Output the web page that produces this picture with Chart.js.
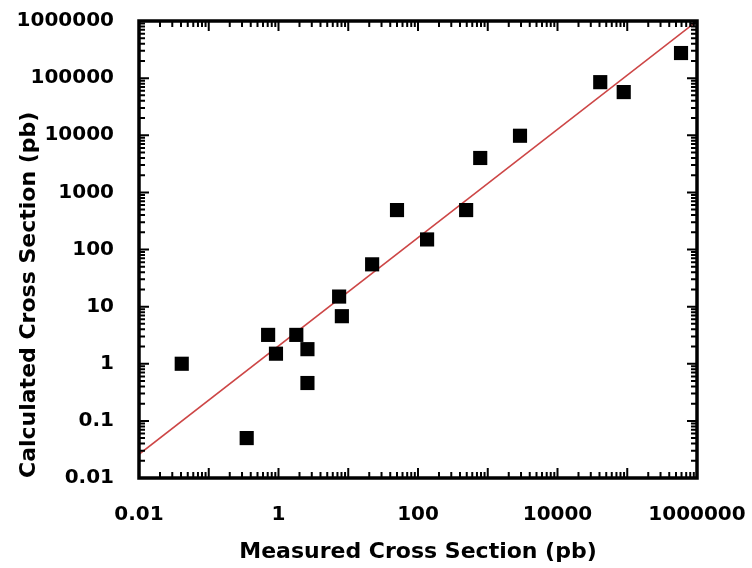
<!DOCTYPE html>
<html>
<head>
<meta charset="utf-8">
<script src="https://cdn.jsdelivr.net/npm/chart.js@4"></script>
<style>
body{margin:0;background:#fff;}
</style>
</head>
<body>
<canvas id="chart" width="752" height="568"></canvas>
<script>
// values (pb)
var measured   = [0.041, 0.35, 0.71, 0.92, 1.8, 2.6, 2.6, 7.4, 8.1, 22, 50, 135, 490, 780, 2900, 41000, 89000, 590000];
var calculated = [1, 0.05, 3.2, 1.5, 3.2, 1.8, 0.46, 15, 6.8, 55, 490, 150, 490, 4000, 9800, 85000, 57000, 275000];
var fitX = [0.01, 1000000];
var fitY = [0.026, 1000000];
var xLabels = [0.01, 1, 100, 10000, 1000000];
var yLabels = [0.01, 0.1, 1, 10, 100, 1000, 10000, 100000, 1000000];

function toPoints(xs, ys){
  var out = [];
  for(var i = 0; i < xs.length; i++) {
    out.push({x: xs[i], y: ys[i]});
  }
  return out;
}

var tickFont = {family: "DejaVu Sans", weight: "bold", size: 20};
var titleFont = {family: "DejaVu Sans", weight: "bold", size: 22};

// inward ticks on all four sides plus the heavy frame
var frameTicks = {
  id: "frameTicks",
  afterDraw: function(chart) {
    var ctx = chart.ctx, a = chart.chartArea;
    var xs = chart.scales.x, ys = chart.scales.y;
    ctx.save();
    ctx.strokeStyle = "#000";
    ctx.lineWidth = 2;
    ctx.beginPath();
    for(var e = -2; e < 6; e++) {
      for(var m = 1; m < 10; m++) {
        var v = m * Math.pow(10, e);
        var len = m === 1 ? 10 : 6;
        var px = xs.getPixelForValue(v);
        ctx.moveTo(px, a.bottom); ctx.lineTo(px, a.bottom - len);
        ctx.moveTo(px, a.top); ctx.lineTo(px, a.top + len);
        var py = ys.getPixelForValue(v);
        ctx.moveTo(a.left, py); ctx.lineTo(a.left + len, py);
        ctx.moveTo(a.right, py); ctx.lineTo(a.right - len, py);
      }
    }
    ctx.stroke();
    ctx.lineWidth = 3.5;
    ctx.strokeRect(a.left, a.top, a.right - a.left, a.bottom - a.top);
    ctx.restore();
  }
};

function noPad(s){
  s.paddingLeft = 0;
  s.paddingRight = 0;
  s.paddingTop = 0;
  s.paddingBottom = 0;
}

var ctx = document.getElementById("chart").getContext("2d");
var chart = new Chart(ctx, {
  type: "scatter",
  data: {
    datasets: [{
      label: "Data",
      data: toPoints(measured, calculated),
      pointStyle: "rect",
      pointRadius: 10,
      pointBackgroundColor: "#000",
      pointBorderWidth: 0,
      order: 0
    }, {
      label: "Fit",
      type: "line",
      data: toPoints(fitX, fitY),
      borderColor: "rgb(205,70,70)",
      borderWidth: 1.5,
      pointRadius: 0,
      fill: false,
      order: 1
    }]
  },
  plugins: [frameTicks],
  options: {
    responsive: false,
    animation: false,
    layout: {autoPadding: false, padding: {left: 0, right: 55, top: 21, bottom: 0}},
    plugins: {legend: {display: false}, tooltip: {enabled: false}},
    scales: {
      x: {
        type: "logarithmic",
        min: 0.01,
        max: 1000000,
        afterBuildTicks: function(s) {
          s.ticks = xLabels.map(function(v){ return {value: v}; });
        },
        afterFit: function(s) { s.height = 90; noPad(s); },
        ticks: {
          callback: function(v){ return String(v); },
          autoSkip: false,
          maxRotation: 0,
          padding: 17,
          color: "#000",
          font: tickFont
        },
        grid: {display: false},
        border: {display: false},
        title: {display: true, text: "Measured Cross Section (pb)", color: "#000", font: titleFont, padding: {top: 0, bottom: 3}}
      },
      y: {
        type: "logarithmic",
        min: 0.01,
        max: 1000000,
        afterBuildTicks: function(s) {
          s.ticks = yLabels.map(function(v){ return {value: v}; });
        },
        afterFit: function(s) { s.width = 139; noPad(s); },
        ticks: {
          callback: function(v){ return String(v); },
          autoSkip: false,
          padding: 17,
          color: "#000",
          font: tickFont
        },
        grid: {display: false},
        border: {display: false},
        title: {display: true, text: "Calculated Cross Section (pb)", align: "start", color: "#000", font: titleFont, padding: {top: 16, bottom: 0}}
      }
    }
  }
});
</script>
</body>
</html>
